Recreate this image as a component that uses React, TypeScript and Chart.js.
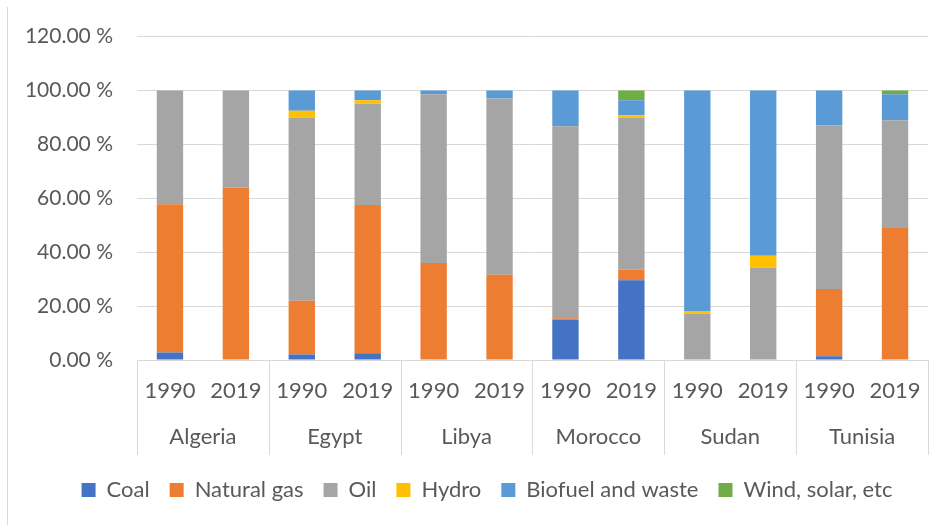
import React, { useEffect, useRef } from "react";
import { Chart, registerables } from "chart.js";

Chart.register(...registerables);

const years = ["1990", "2019", "1990", "2019", "1990", "2019", "1990", "2019", "1990", "2019", "1990", "2019"];
const countries = ["Algeria", "Egypt", "Libya", "Morocco", "Sudan", "Tunisia"];

const coal = [2.8, 0, 2, 2.5, 0, 0, 15, 29.6, 0, 0, 1.4, 0];
const naturalGas = [55, 64, 20, 55, 36, 31.6, 0.5, 3.9, 0, 0, 24.9, 49];
const oil = [42.2, 36, 68, 37.6, 62.6, 65.4, 71.2, 56.5, 17.2, 34.2, 60.7, 40];
const hydro = [0, 0, 2.5, 1.3, 0, 0, 0, 0.8, 1, 4.5, 0, 0];
const biofuel = [0, 0, 7.5, 3.6, 1.4, 3, 13.3, 5.6, 81.8, 61.3, 13, 9.6];
const windSolar = [0, 0, 0, 0, 0, 0, 0, 3.6, 0, 0, 0, 1.4];

const yTicks = [0, 20, 40, 60, 80, 100, 120];

const FONT = "Lato, 'Open Sans', sans-serif";
const TEXT = "#595959";
const GRID = "#d9d9d9";

const groupPlugin = {
  id: "groupPlugin",
  afterLayout(chart: any) {
    const lg = chart.legend;
    if (lg) {
      lg.left += 23;
      lg.right += 23;
    }
  },
  beforeDraw(chart: any) {
    const ctx = chart.ctx;
    ctx.save();
    ctx.strokeStyle = GRID;
    ctx.lineWidth = 1;
    ctx.beginPath();
    ctx.moveTo(7.5, 7);
    ctx.lineTo(7.5, chart.height);
    ctx.stroke();
    ctx.restore();
  },
  afterDraw(chart: any) {
    const x = chart.scales.x;
    const ctx = chart.ctx;
    const bottom = chart.chartArea.bottom;
    const half = (x.getPixelForValue(1) - x.getPixelForValue(0)) / 2;
    ctx.save();
    ctx.strokeStyle = GRID;
    ctx.lineWidth = 1;
    for (let g = 0; g <= countries.length; g++) {
      const px = g < countries.length ? x.getPixelForValue(g * 2) - half : x.getPixelForValue(g * 2 - 1) + half;
      const xx = Math.round(px) + 0.5;
      ctx.beginPath();
      ctx.moveTo(xx, bottom);
      ctx.lineTo(xx, bottom + 95);
      ctx.stroke();
    }
    ctx.fillStyle = TEXT;
    ctx.font = `22px ${FONT}`;
    ctx.textAlign = "center";
    ctx.textBaseline = "middle";
    countries.forEach((c, g) => {
      const cx = (x.getPixelForValue(g * 2) + x.getPixelForValue(g * 2 + 1)) / 2;
      ctx.fillText(c, cx, bottom + 77);
    });
    ctx.restore();
  },
};

export default function App() {
  const ref = useRef<HTMLCanvasElement>(null);
  useEffect(() => {
    if (!ref.current) return;
    const mk = (label: string, data: number[], color: string) => ({
      label,
      data,
      backgroundColor: color,
      borderWidth: 0,
      barPercentage: 0.4,
      categoryPercentage: 1,
    });
    const chart = new Chart(ref.current, {
      type: "bar",
      data: {
        labels: years,
        datasets: [
          mk("Coal", coal, "#4472C4"),
          mk("Natural gas", naturalGas, "#ED7D31"),
          mk("Oil", oil, "#A5A5A5"),
          mk("Hydro", hydro, "#FFC000"),
          mk("Biofuel and waste", biofuel, "#5B9BD5"),
          mk("Wind, solar, etc", windSolar, "#70AD47"),
        ],
      },
      plugins: [groupPlugin],
      options: {
        animation: false,
        responsive: false,
        devicePixelRatio: 1,
        layout: { padding: { top: 35, right: 16, bottom: 14, left: 0 } },
        plugins: {
          tooltip: { enabled: false },
          legend: {
            position: "bottom",
            labels: {
              boxWidth: 14,
              boxHeight: 14,
              padding: 20,
              color: TEXT,
              font: { family: FONT, size: 22 },
            },
          },
        },
        scales: {
          x: {
            stacked: true,
            grid: { display: false, drawTicks: false },
            border: { display: true, color: GRID, width: 1 },
            ticks: { color: TEXT, font: { family: FONT, size: 22 }, padding: 18, maxRotation: 0, autoSkip: false },
            afterFit: (s: any) => {
              s.height = 99;
            },
          },
          y: {
            stacked: true,
            min: 0,
            max: 120,
            afterBuildTicks: (s: any) => {
              s.ticks = yTicks.map((v) => ({ value: v }));
            },
            grid: { color: GRID, lineWidth: 1, drawTicks: false },
            border: { display: false },
            ticks: {
              color: TEXT,
              font: { family: FONT, size: 21 },
              padding: 24,
              callback: (v: any) => Number(v).toFixed(2) + " %",
            },
            afterFit: (s: any) => {
              s.width = 137;
            },
          },
        },
      },
    } as any);
    return () => chart.destroy();
  }, []);
  return (
    <div style={{ position: "fixed", left: 0, top: 0, width: 944, height: 525, background: "#fff" }}>
      <canvas ref={ref} width={944} height={525} style={{ width: 944, height: 525, display: "block" }} />
    </div>
  );
}
